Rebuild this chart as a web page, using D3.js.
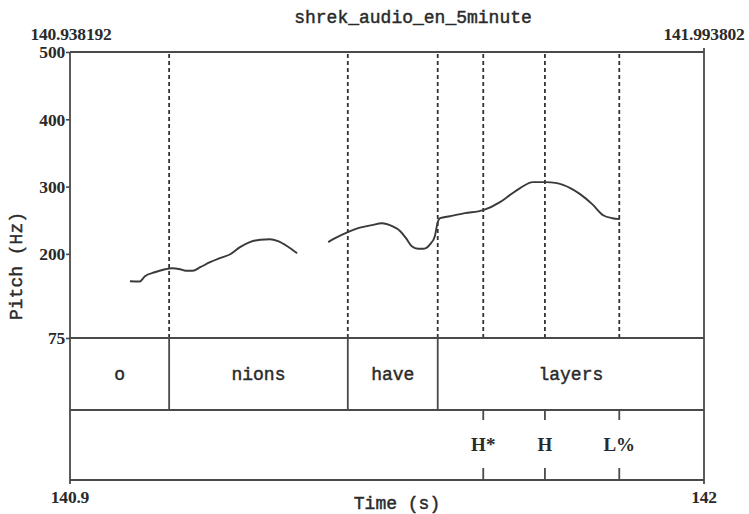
<!DOCTYPE html>
<html><head><meta charset="utf-8">
<script src="https://cdn.jsdelivr.net/npm/d3@7/dist/d3.min.js"></script>
<style>body{margin:0;background:#fff}svg{display:block}</style>
</head><body>
<svg id="c" width="749" height="514"></svg>
<script>
const title = "shrek_audio_en_5minute";
const selStart = "140.938192", selEnd = "141.993802";
const timeDomain = [140.9, 142];
const timeTickLabels = ["140.9", "142"];
const pitchDomain = [75, 500];
const pitchTicks = [75, 200, 300, 400, 500];
// pitch contour segments [time (s), Hz]
const pitchSeg1 = [[141.004,159.3],[141.021,159],[141.030,166.8],[141.047,172.7],[141.065,177.2],[141.077,178.7],[141.091,177.2],[141.101,175],[141.113,175],[141.126,180.2],[141.143,187.6],[141.160,193.6],[141.178,199.5],[141.195,210],[141.212,217.4],[141.230,221.1],[141.247,221.8],[141.261,218.9],[141.277,211.4],[141.294,201]];
const pitchSeg2 = [[141.348,217.4],[141.360,223.3],[141.382,232.3],[141.403,239],[141.424,242.7],[141.441,245.6],[141.459,241.2],[141.473,233.7],[141.483,223.3],[141.493,211.4],[141.504,207.7],[141.514,207.7],[141.525,214.4],[141.533,226.3],[141.538,247.1],[141.542,253],[141.559,256],[141.585,260.5],[141.617,265],[141.646,276.9],[141.663,287.3],[141.681,297.8],[141.703,306.7],[141.724,306.7],[141.745,305.2],[141.768,297.8],[141.785,288.8],[141.806,274],[141.825,257.5],[141.841,253],[141.854,251.6]];
// word tier: boundaries and labels
const wordBounds = [141.072, 141.382, 141.538];
const words = [["o",140.9,141.072],["nions",141.072,141.382],["have",141.382,141.538],["layers",141.538,142]];
// tone tier points
const tones = [["H*",141.617],["H",141.724],["L%",141.853]];

const svg = d3.select("#c");
const L = 70, R = 704, T = 52, B1 = 338, B2 = 410, B3 = 480;
const stroke = "#4a4a4a";
const x = d3.scaleLinear().domain(timeDomain).range([L, R]);
const y = d3.scaleLinear().domain(pitchDomain).range([B1, T]);
const serif = "'Liberation Serif', 'DejaVu Serif', serif";
const mono = "'Liberation Mono', 'DejaVu Sans Mono', monospace";
const numStyle = s => s.attr("font-family", serif).attr("font-weight", "bold")
  .attr("font-size", 17.5).attr("fill", "#2a2a2a").style("letter-spacing", "-0.2px");
const monoStyle = s => s.attr("font-family", mono).attr("font-weight", "normal")
  .attr("font-size", 18).attr("fill", "#2a2a2a").attr("stroke", "#2a2a2a").attr("stroke-width", 0.45);

// dashed lines
const dashTimes = wordBounds.concat(tones.map(d => d[1]));
svg.selectAll("line.dash").data(dashTimes).join("line")
  .attr("x1", d => x(d)).attr("x2", d => x(d)).attr("y1", T + 2).attr("y2", B1)
  .attr("stroke", "#333").attr("stroke-width", 1.8).attr("stroke-dasharray", "4,3");

// pitch contour
const line = d3.line().x(d => x(d[0])).y(d => y(d[1])).curve(d3.curveMonotoneX);
[pitchSeg1, pitchSeg2].forEach(s => svg.append("path").attr("d", line(s))
  .attr("fill", "none").attr("stroke", "#3a3a3a").attr("stroke-width", 1.9));

// frame
const fr = svg.append("g").attr("stroke", stroke).attr("stroke-width", 1.8);
fr.append("line").attr("x1", L).attr("x2", R).attr("y1", T).attr("y2", T);
fr.append("line").attr("x1", L).attr("x2", L).attr("y1", T).attr("y2", B3 + 4);
fr.append("line").attr("x1", R).attr("x2", R).attr("y1", T - 4).attr("y2", B3 + 4);
[B1, B2, B3].forEach(v => fr.append("line").attr("x1", L).attr("x2", R).attr("y1", v).attr("y2", v));
wordBounds.forEach(t => fr.append("line").attr("x1", x(t)).attr("x2", x(t)).attr("y1", B1).attr("y2", B2));
tones.forEach(d => {
  fr.append("line").attr("x1", x(d[1])).attr("x2", x(d[1])).attr("y1", B2).attr("y2", B2 + 10);
  fr.append("line").attr("x1", x(d[1])).attr("x2", x(d[1])).attr("y1", B3 - 12).attr("y2", B3);
});

// y axis
const yAxis = d3.axisLeft(y).tickValues(pitchTicks).tickSize(4).tickFormat(d3.format("d"));
const ya = svg.append("g").attr("transform", `translate(${L},0)`).call(yAxis);
ya.select(".domain").remove();
ya.selectAll(".tick line").attr("stroke", stroke).attr("stroke-width", 1.6);
ya.selectAll(".tick text").call(numStyle).attr("x", -5).attr("dy", "0.33em");

// texts
svg.append("text").attr("x", 413).attr("y", 23).attr("text-anchor", "middle").call(monoStyle).text(title);
svg.append("text").attr("x", L + 1).attr("y", 40).attr("text-anchor", "middle").call(numStyle).text(selStart);
svg.append("text").attr("x", R).attr("y", 40).attr("text-anchor", "middle").call(numStyle).text(selEnd);
svg.append("text").attr("x", x(timeDomain[0])).attr("y", 503).attr("text-anchor", "middle").call(numStyle).text(timeTickLabels[0]);
svg.append("text").attr("x", x(timeDomain[1])).attr("y", 503).attr("text-anchor", "middle").call(numStyle).text(timeTickLabels[1]);
svg.append("text").attr("x", 397).attr("y", 509).attr("text-anchor", "middle").call(monoStyle).text("Time (s)");
svg.append("text").attr("transform", `translate(22,${(T + B3) / 2}) rotate(-90)`).attr("text-anchor", "middle")
  .call(monoStyle).text("Pitch (Hz)");

svg.selectAll("text.word").data(words).join("text")
  .attr("x", d => (x(d[1]) + x(d[2])) / 2).attr("y", 380).attr("text-anchor", "middle")
  .call(monoStyle).text(d => d[0]);
svg.selectAll("text.tone").data(tones).join("text")
  .attr("x", d => x(d[1])).attr("y", 451).attr("text-anchor", "middle")
  .attr("font-family", serif).attr("font-weight", "bold").attr("font-size", 19).attr("fill", "#2a2a2a").text(d => d[0]);
</script>
</body></html>
